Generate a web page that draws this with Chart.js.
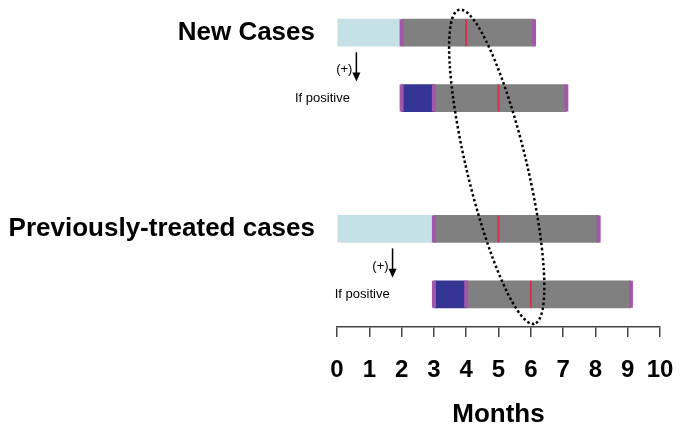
<!DOCTYPE html>
<html>
<head>
<meta charset="utf-8">
<script src="https://cdn.jsdelivr.net/npm/chart.js@4"></script>
<style>
  html, body { margin: 0; padding: 0; background: #fff; }
  #wrap { width: 680px; height: 430px; }
</style>
</head>
<body>
<div id="wrap"><canvas id="chart"></canvas></div>
<script>
// rows of the timeline (the empty one is the gap between the two groups)
const rows = ['New Cases', 'If positive', '', 'Previously-treated cases', 'If positive'];
const bigRows = [0, 3];

// segments in months, one entry per row
const waiting = [[0, 2], null, null, [0, 3], null];
const positive = [null, [2, 3], null, null, [3, 4]];
const treatment = [[2, 6.1], [3, 7.1], null, [3, 8.1], [4, 9.1]];

// phase boundaries (purple) and mid-treatment marks (red)
const starts = [2, 2, null, 3, 3];
const splits = [null, 3, null, null, 4];
const ends = [6.1, 7.1, null, 8.1, 9.1];
const midMarks = [4, 5, null, 5, 6];

// "(+) / If positive" branch notes: row, arrow month, text end month
const branchRows = [1, 4];
const branchArrow = [0.6, 1.72];
const branchTextEnd = [0.4, 1.63];

// dotted ellipse, axis ends as [month, row]
const ellipseTop = [3.78, -0.35];
const ellipseBottom = [6.11, 4.45];

const FONT = "'Liberation Sans', Arial, sans-serif";

const notesPlugin = {
    id: 'notes',
    afterDatasetsDraw(chart) {
        const { ctx, scales: { x, y } } = chart;
        ctx.save();
        ctx.fillStyle = '#000';
        ctx.strokeStyle = '#000';
        ctx.font = '13px ' + FONT;
        ctx.textBaseline = 'middle';
        ctx.textAlign = 'right';
        branchRows.forEach((row, k) => {
            const ax = x.getPixelForValue(branchArrow[k]);
            const top = y.getPixelForValue(row - 1) + 19.5;
            const tip = y.getPixelForValue(row) - 16.5;
            ctx.lineWidth = 1.5;
            ctx.beginPath();
            ctx.moveTo(ax, top);
            ctx.lineTo(ax, tip - 8);
            ctx.stroke();
            ctx.beginPath();
            ctx.moveTo(ax - 4, tip - 9);
            ctx.lineTo(ax + 4, tip - 9);
            ctx.lineTo(ax, tip);
            ctx.closePath();
            ctx.fill();
            ctx.fillText('(+)', ax - 4, (top + tip) / 2 + 3);
            ctx.fillText('If positive', x.getPixelForValue(branchTextEnd[k]), y.getPixelForValue(row));
        });

        const x1 = x.getPixelForValue(ellipseTop[0]), y1 = y.getPixelForValue(ellipseTop[1]);
        const x2 = x.getPixelForValue(ellipseBottom[0]), y2 = y.getPixelForValue(ellipseBottom[1]);
        const a = Math.hypot(x2 - x1, y2 - y1) / 2;
        ctx.lineWidth = 2.5;
        ctx.setLineDash([2.5, 2.5]);
        ctx.beginPath();
        ctx.ellipse((x1 + x2) / 2, (y1 + y2) / 2, a, 30, Math.atan2(y2 - y1, x2 - x1), 0, Math.PI * 2);
        ctx.stroke();
        ctx.restore();
    },
};

const markStyle = (data, color, width) => ({
    type: 'scatter',
    data,
    showLine: false,
    pointStyle: 'line',
    rotation: 90,
    pointRadius: 13.5,
    borderColor: color,
    borderWidth: width,
});

new Chart(document.getElementById('chart'), {
    type: 'bar',
    data: {
        labels: rows,
        datasets: [
            markStyle(midMarks, '#d3304c', 2),
            markStyle(starts, '#a357a8', 4),
            markStyle(splits, '#a357a8', 4),
            markStyle(ends, '#a357a8', 4),
            { data: positive, backgroundColor: '#353593' },
            { data: treatment, backgroundColor: '#808080' },
            { data: waiting, backgroundColor: '#c6e1e6' },
        ],
    },
    options: {
        indexAxis: 'y',
        responsive: true,
        maintainAspectRatio: false,
        animation: false,
        events: [],
        datasets: {
            bar: { grouped: false, barThickness: 27, borderWidth: 0 },
        },
        layout: { autoPadding: false, padding: { left: 0, right: 20, top: -2, bottom: 0 } },
        plugins: {
            legend: { display: false },
            tooltip: { enabled: false },
        },
        scales: {
            x: {
                type: 'linear',
                min: 0,
                max: 10,
                afterFit: (scale) => { scale.paddingLeft = 0; scale.paddingRight = 0; },
                ticks: {
                    stepSize: 1,
                    autoSkip: false,
                    maxRotation: 0,
                    minRotation: 0,
                    color: '#000',
                    padding: 19,
                    font: { family: FONT, size: 24, weight: 'bold' },
                },
                grid: { drawOnChartArea: false, tickLength: 10, color: '#444', lineWidth: 1.5 },
                border: { color: '#444', width: 1.5 },
                title: {
                    display: true,
                    text: 'Months',
                    color: '#000',
                    font: { family: FONT, size: 26, weight: 'bold' },
                    padding: { top: -5, bottom: 0 },
                },
            },
            y: {
                type: 'category',
                grid: { display: false, drawTicks: false },
                border: { display: false },
                afterFit: (scale) => {
                    scale.width = 337;
                    scale.paddingTop = 0;
                    scale.paddingBottom = 0;
                },
                ticks: {
                    color: '#000',
                    padding: 22,
                    font: { family: FONT, size: 26, weight: 'bold' },
                    callback(value, i) {
                        return bigRows.includes(i) ? this.getLabelForValue(value) : '';
                    },
                },
            },
        },
    },
    plugins: [notesPlugin],
});
</script>
</body>
</html>
